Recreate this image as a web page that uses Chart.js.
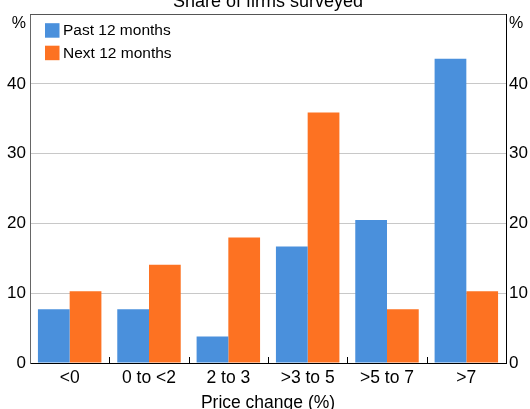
<!DOCTYPE html>
<html>
<head>
<meta charset="utf-8">
<script src="https://cdn.jsdelivr.net/npm/chart.js@4/dist/chart.umd.min.js"></script>
<style>
  html, body { margin: 0; padding: 0; background: #fff; }
  #wrap { width: 530px; height: 409px; }
</style>
</head>
<body>
<div id="wrap"><canvas id="c" width="530" height="409"></canvas></div>
<script>
const chartTitle = 'Share of firms surveyed';
const xAxisTitle = 'Price change (%)';
const unitLabel = '%';
const categories = ['<0', '0 to <2', '2 to 3', '>3 to 5', '>5 to 7', '>7'];
const seriesNames = ['Past 12 months', 'Next 12 months'];
const pastValues = [7.7, 7.7, 3.8, 16.7, 20.5, 43.6];
const nextValues = [10.3, 14.1, 18.0, 35.9, 7.7, 10.3];
const yTicks = [0, 10, 20, 30, 40, 50];

const FONT = "'Liberation Sans', Arial, sans-serif";
const BLUE = '#4a90dc';
const ORANGE = '#fd7222';

const extras = {
  id: 'extras',
  afterDraw(chart) {
    const ctx = chart.ctx;
    const a = chart.chartArea;
    const x = chart.scales.x;
    ctx.save();
    // top border
    ctx.strokeStyle = '#555';
    ctx.lineWidth = 1;
    ctx.beginPath();
    ctx.moveTo(a.left, Math.round(a.top) + 0.5);
    ctx.lineTo(a.right, Math.round(a.top) + 0.5);
    ctx.stroke();
    // inner tick marks between categories
    ctx.strokeStyle = '#000';
    for (let i = 1; i < categories.length; i++) {
      const px = Math.round((x.getPixelForValue(i - 1) + x.getPixelForValue(i)) / 2) + 0.5;
      ctx.beginPath();
      ctx.moveTo(px, a.bottom);
      ctx.lineTo(px, a.bottom - 6);
      ctx.stroke();
    }
    // title (clipped at top)
    ctx.fillStyle = '#000';
    ctx.font = '18px ' + FONT;
    ctx.textAlign = 'center';
    ctx.textBaseline = 'alphabetic';
    ctx.fillText(chartTitle, (a.left + a.right) / 2, 7);
    // unit labels
    ctx.font = '16px ' + FONT;
    ctx.textAlign = 'right';
    ctx.fillText(unitLabel, a.left - 4, a.top + 14);
    ctx.textAlign = 'left';
    ctx.fillText(unitLabel, a.right + 3, a.top + 14);
    // legend inside plot
    ctx.font = '15.5px ' + FONT;
    chart.data.datasets.forEach((ds, i) => {
      const sx = a.left + 15, sy = a.top + 9 + i * 22.5;
      ctx.fillStyle = ds.backgroundColor;
      ctx.fillRect(sx, sy, 14.5, 14.5);
      ctx.fillStyle = '#000';
      ctx.textAlign = 'left';
      ctx.textBaseline = 'middle';
      ctx.fillText(ds.label, sx + 18, sy + 8);
    });
    ctx.restore();
  }
};

new Chart(document.getElementById('c'), {
  type: 'bar',
  data: {
    labels: categories,
    datasets: [
      { label: seriesNames[0], data: pastValues, backgroundColor: BLUE, yAxisID: 'y' },
      { label: seriesNames[1], data: nextValues, backgroundColor: ORANGE, yAxisID: 'y' }
    ]
  },
  options: {
    responsive: false,
    devicePixelRatio: 1,
    animation: false,
    layout: { padding: { top: 13, bottom: 0, left: 0, right: 0 } },
    datasets: { bar: { categoryPercentage: 0.8, barPercentage: 1.0 } },
    plugins: { legend: { display: false }, title: { display: false }, tooltip: { enabled: false } },
    scales: {
      x: {
        offset: true,
        grid: { display: true, drawOnChartArea: false, drawTicks: false },
        border: { display: true, color: '#000', width: 1 },
        ticks: { padding: 5, color: '#000', font: { family: FONT, size: 17.5 }, maxRotation: 0, autoSkip: false },
        title: { display: true, text: xAxisTitle, color: '#000', font: { family: FONT, size: 17.5 }, padding: { top: 0, bottom: -5 } },
        afterFit(scale) { scale.height = 46; }
      },
      y: {
        position: 'left',
        min: 0, max: 50,
        afterBuildTicks(scale) { scale.ticks = yTicks.map(v => ({ value: v })); },
        grid: { color: '#c8c8c8', drawTicks: false },
        border: { display: true, color: '#666', width: 1 },
        ticks: { padding: 4, color: '#000', font: { family: FONT, size: 17 }, callback: v => v === 50 ? '' : v },
        afterFit(scale) { scale.width = 30; }
      },
      y2: {
        position: 'right',
        min: 0, max: 50,
        afterBuildTicks(scale) { scale.ticks = yTicks.map(v => ({ value: v })); },
        grid: { display: true, drawOnChartArea: false, drawTicks: false },
        border: { display: true, color: '#000', width: 1 },
        ticks: { padding: 3, color: '#000', font: { family: FONT, size: 17 }, callback: v => v === 50 ? '' : v },
        afterFit(scale) { scale.width = 24; }
      }
    }
  },
  plugins: [extras]
});
</script>
</body>
</html>
